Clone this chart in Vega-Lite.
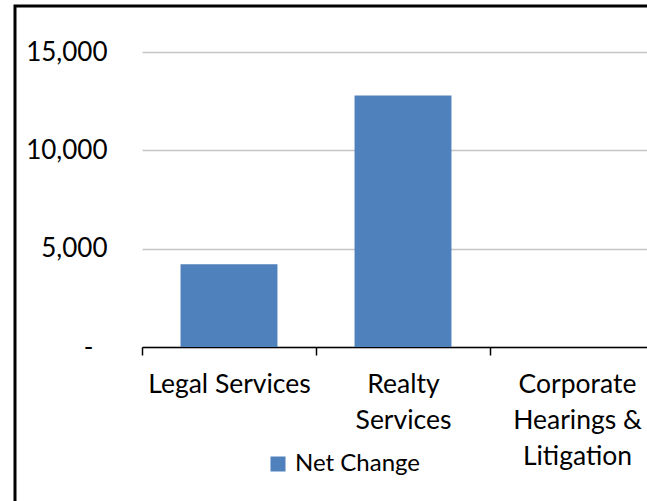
{
  "$schema": "https://vega.github.io/schema/vega-lite/v6.json",
  "width": 660,
  "height": 520,
  "autosize": {"type": "none"},
  "padding": {"left": 15, "top": 6, "right": -28, "bottom": -25},
  "background": "white",
  "config": {"view": {"stroke": "#000000", "strokeWidth": 3}, "font": "Lato"},
  "data": {"values": [
    {"category": "Legal Services", "value": 4210, "series": "Net Change"},
    {"category": "Realty Services", "value": 12790, "series": "Net Change"},
    {"category": "Corporate Hearings & Litigation", "value": 0, "series": "Net Change"}
  ]},
  "mark": {"type": "bar", "width": {"band": 0.557}},
  "encoding": {
    "x": {
      "field": "category", "type": "nominal", "sort": null,
      "scale": {"range": [127, 649], "paddingInner": 0, "paddingOuter": 0},
      "axis": {
        "title": null, "labelAngle": 0, "tickBand": "extent", "tickSize": 8, "offset": -179,
        "tickColor": "#000000", "tickWidth": 1.5, "domainColor": "#000000", "domainWidth": 1.5,
        "labelFontSize": 26.5, "labelColor": "#000000", "labelPadding": 16, "labelLineHeight": 36,
        "labelBaseline": "top", "labelOverlap": false, "labelLimit": 400, "grid": false,
        "labelExpr": "datum.label == 'Realty Services' ? ['Realty', 'Services'] : datum.label == 'Corporate Hearings & Litigation' ? ['Corporate', 'Hearings &', 'Litigation'] : datum.label"
      }
    },
    "y": {
      "field": "value", "type": "quantitative",
      "scale": {"domain": [0, 15000], "range": [341, 46], "nice": false, "zero": true},
      "axis": {
        "title": null, "values": [0, 5000, 10000, 15000], "offset": -127,
        "domain": false, "ticks": false,
        "labelPadding": {"condition": {"test": "datum.value == 0", "value": 49}, "value": 35},
        "labelFontSize": 26,
        "labelColor": "#000000", "gridColor": "#c4c4c4", "gridWidth": 1.5,
        "labelExpr": "datum.value == 0 ? '-' : format(datum.value, ',')"
      }
    },
    "color": {
      "field": "series", "type": "nominal", "scale": {"range": ["#4F81BD"]},
      "legend": {
        "title": null, "orient": "none", "legendX": 251, "legendY": 446,
        "symbolType": "square", "symbolSize": 225, "symbolStrokeWidth": 0,
        "labelFontSize": 24, "labelColor": "#000000", "labelOffset": 5, "padding": 0
      }
    }
  }
}
